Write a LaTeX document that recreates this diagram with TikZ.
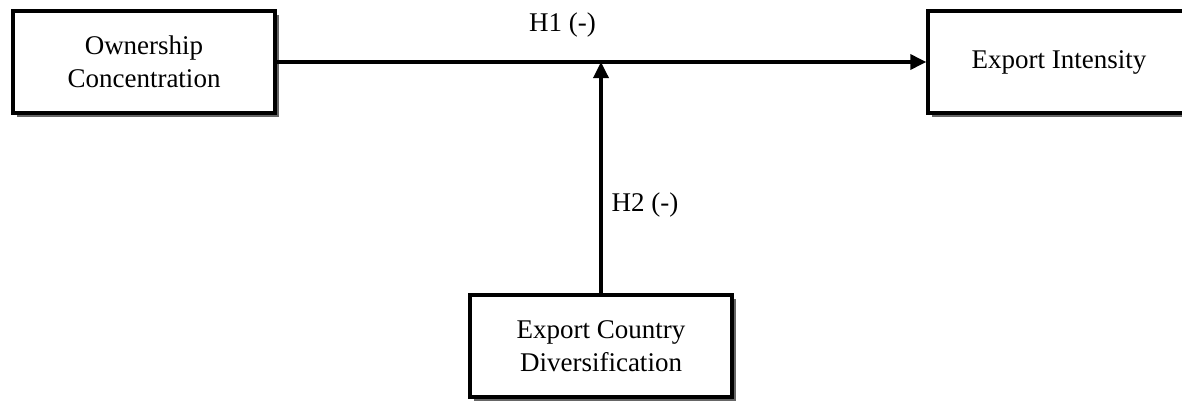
\documentclass[tikz,border=0pt]{standalone}
\usepackage{fontspec}
\setmainfont{Liberation Serif}
\usetikzlibrary{arrows.meta, shadows}

\begin{document}
\begin{tikzpicture}[x=0.5pt, y=-0.5pt,
    varbox/.style={draw, line width=1.7pt, fill=white, minimum width=131pt, minimum height=51pt,
        align=center, font=\fontsize{13.5}{16.5}\selectfont,
        drop shadow={shadow xshift=1.8pt, shadow yshift=-1.8pt, fill=black!60, opacity=1}},
    hyp/.style={font=\fontsize{13.5}{16.5}\selectfont},
    link/.style={line width=1.7pt, -{Triangle[length=8pt,width=7.5pt]}}]
    \useasboundingbox (0,0) rectangle (1182,402);
    \node[varbox] (oc) at (144,62) {Ownership\\Concentration};
    \node[varbox] (ei) at (1059,62) {Export Intensity};
    \node[varbox] (ecd) at (601,346) {Export Country\\Diversification};
    \draw[link] (oc.east) -- (ei.west) node[hyp, pos=0.44, above=8pt] (h1) {H1 (-)};
    \draw[link] (ecd.north) -- (ecd.north |- oc.east) coordinate (meet);
    \node[hyp] (h2) at (645,205) {H2 (-)};
\end{tikzpicture}
\end{document}
